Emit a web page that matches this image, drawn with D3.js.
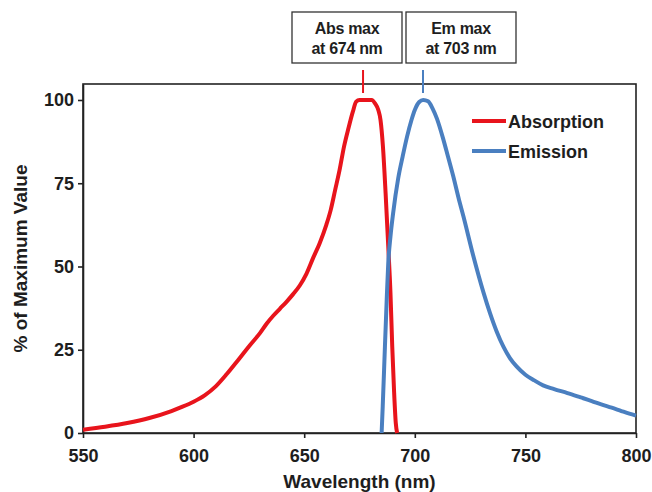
<!DOCTYPE html>
<html>
<head>
<meta charset="utf-8">
<script src="https://cdn.jsdelivr.net/npm/d3@7/dist/d3.min.js"></script>
<style>
  html, body { margin: 0; padding: 0; background: #fff; }
  text { font-family: "Liberation Sans", Arial, sans-serif; font-weight: bold; fill: #1e1e1e; }
</style>
</head>
<body>
<svg id="chart" width="652" height="492"></svg>
<script>
// ---- data ----
const absWavelength = [550, 560, 570, 580, 590, 595, 600, 605, 610, 615, 620, 625, 630, 633, 636, 639, 642, 645, 648, 651, 654, 657, 660, 662, 664, 666, 668, 670, 672, 673.5, 675, 678, 680.5, 682, 683.5, 684.5, 685.6, 686.8, 688, 689, 689.8, 690.6, 691.4, 692];
const absValue      = [1.0, 1.9, 3.0, 4.5, 6.6, 7.9, 9.4, 11.3, 14.0, 17.7, 21.8, 26.0, 30.0, 32.8, 35.2, 37.3, 39.4, 41.7, 44.3, 47.8, 52.5, 57, 62.5, 67, 73, 79, 86, 91.5, 96.5, 99.5, 100, 100, 100, 99, 97, 94, 86, 72, 56, 42, 26, 13, 3, 0];

const emWavelength = [685, 685.5, 686.5, 687.3, 688, 689, 690.2, 692.5, 694.5, 696.5, 698.5, 700, 702, 703.8, 706, 708, 710, 712.8, 715, 717.3, 720, 722, 726.4, 731, 734, 737, 740, 743, 746, 750, 754, 758, 763, 769, 775, 780, 784.3, 789, 793.4, 797, 800];
const emValue      = [0, 8, 26, 40, 51, 59, 66, 76.5, 83, 89, 94, 97, 99.4, 100, 99.6, 97.5, 94.4, 88.4, 83, 77.3, 70, 65, 53.3, 42.3, 36, 30.5, 26, 22.5, 20, 17.5, 15.8, 14.3, 13.2, 12, 10.7, 9.6, 8.6, 7.6, 6.6, 5.8, 5.2];

const xTicks = [550, 600, 650, 700, 750, 800];
const yTicks = [0, 25, 50, 75, 100];
const seriesNames = ["Absorption", "Emission"];
const seriesColors = ["#e8141c", "#4a7fc0"];
const annotLines1 = ["Abs max", "Em max"];
const annotLines2 = ["at 674 nm", "at 703 nm"];
const annotMarkerX = [676.6, 703.7];   // where the marker ticks sit on the picture

// ---- layout ----
const svg = d3.select("#chart");
const margin = { left: 83, right: 16, top: 84, bottom: 59 };
const W = 652, H = 492;
const x = d3.scaleLinear().domain([550, 800]).range([margin.left, W - margin.right]);
const y = d3.scaleLinear().domain([0, 104.8]).range([H - margin.bottom, margin.top]);

// frame
svg.append("rect")
  .attr("x", x(550)).attr("y", y(104.8))
  .attr("width", x(800) - x(550)).attr("height", y(0) - y(104.8))
  .attr("fill", "none").attr("stroke", "#222").attr("stroke-width", 1.6);

// axes
const xAxis = svg.append("g").attr("transform", `translate(0,${y(0)})`)
  .call(d3.axisBottom(x).tickValues(xTicks).tickFormat(d3.format("d")).tickSize(5).tickSizeOuter(0).tickPadding(11));
const yAxis = svg.append("g").attr("transform", `translate(${x(550)},0)`)
  .call(d3.axisLeft(y).tickValues(yTicks).tickFormat(d3.format("d")).tickSize(5).tickSizeOuter(0).tickPadding(4));
[xAxis, yAxis].forEach(g => {
  g.select(".domain").attr("stroke", "#222").attr("stroke-width", 1.6);
  g.selectAll(".tick line").attr("stroke", "#222").attr("stroke-width", 1.6);
  g.selectAll(".tick text").style("font-size", "18px").style("font-family", "'Liberation Sans', Arial, sans-serif")
    .style("font-weight", "bold").attr("fill", "#1e1e1e");
});

// axis titles
svg.append("text").attr("x", (x(550) + x(800)) / 2).attr("y", 488)
  .attr("text-anchor", "middle").style("font-size", "19px").text("Wavelength (nm)");
svg.append("text").attr("transform", `translate(27,${(y(0) + y(104.8)) / 2}) rotate(-90)`)
  .attr("text-anchor", "middle").style("font-size", "19px").text("% of Maximum Value");

// curves
const line = d3.line().x(d => x(d[0])).y(d => y(d[1])).curve(d3.curveMonotoneX);
const absData = absWavelength.map((w, i) => [w, absValue[i]]);
const emData = emWavelength.map((w, i) => [w, emValue[i]]);
svg.append("path").datum(absData).attr("d", line)
  .attr("fill", "none").attr("stroke", seriesColors[0]).attr("stroke-width", 4).attr("stroke-linejoin", "round");
svg.append("path").datum(emData).attr("d", line)
  .attr("fill", "none").attr("stroke", seriesColors[1]).attr("stroke-width", 4).attr("stroke-linejoin", "round");

// legend
const legY = [121, 151];
seriesNames.forEach((name, i) => {
  svg.append("line").attr("x1", 472).attr("x2", 506).attr("y1", legY[i]).attr("y2", legY[i])
    .attr("stroke", seriesColors[i]).attr("stroke-width", 4);
  svg.append("text").attr("x", 508).attr("y", legY[i] + 6.5).style("font-size", "18px").text(name);
});

// annotation boxes and markers
const boxX = [292, 406];
annotMarkerX.forEach((wl, i) => {
  svg.append("rect").attr("x", boxX[i]).attr("y", 12).attr("width", 110).attr("height", 51)
    .attr("fill", "#fff").attr("stroke", "#333").attr("stroke-width", 1.3);
  svg.append("text").attr("x", boxX[i] + 55).attr("y", 33.5).attr("text-anchor", "middle")
    .style("font-size", "16px").style("letter-spacing", "-0.3px").text(annotLines1[i]);
  svg.append("text").attr("x", boxX[i] + 55).attr("y", 53.5).attr("text-anchor", "middle")
    .style("font-size", "16px").style("letter-spacing", "-0.3px").text(annotLines2[i]);
  svg.append("line").attr("x1", x(wl)).attr("x2", x(wl)).attr("y1", 70).attr("y2", 93)
    .attr("stroke", seriesColors[i]).attr("stroke-width", 2);
});
</script>
</body>
</html>
